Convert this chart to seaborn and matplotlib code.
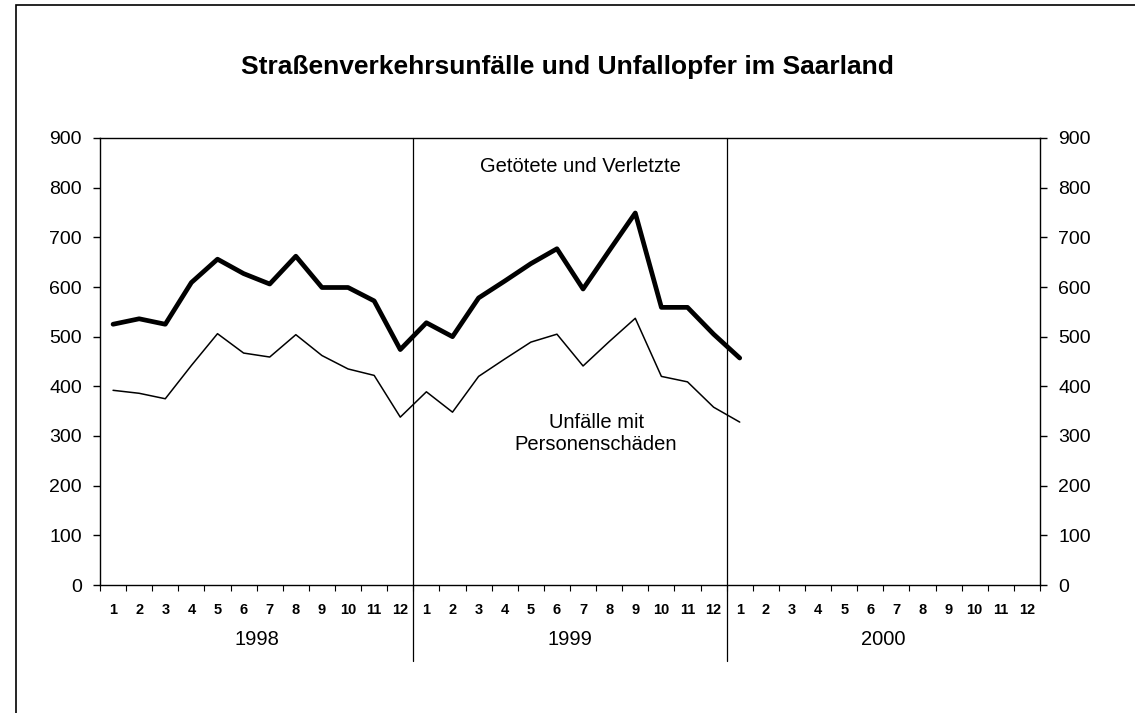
import matplotlib
matplotlib.use("Agg")
import matplotlib.pyplot as plt
import seaborn as sns
import pandas as pd
import numpy as np

sns.set_theme(style="white")
plt.rcParams['font.family'] = ['Liberation Sans', 'DejaVu Sans']
plt.rcParams['text.color'] = 'black'
plt.rcParams['xtick.color'] = 'black'
plt.rcParams['ytick.color'] = 'black'

years = ["1998", "1999", "2000"]
months = [str(m) for m in range(1, 13)]
verletzte = [525, 536, 525, 609, 656, 627, 606, 662, 599, 599, 572, 474,
             528, 500, 578, 612, 647, 677, 596, 673, 749, 559, 559, 505,
             457]
unfaelle = [392, 386, 375, 442, 506, 467, 459, 504, 462, 435, 422, 338,
            389, 348, 420, 455, 489, 505, 441, 490, 537, 420, 409, 358,
            328]
title = "Straßenverkehrsunfälle und Unfallopfer im Saarland"
label_verl = "Getötete und Verletzte"
label_unf = "Unfälle mit\nPersonenschäden"

n_cat = len(years) * len(months)
df = pd.DataFrame({
    "idx": list(range(len(verletzte))) * 2,
    "wert": verletzte + unfaelle,
    "serie": ["v"] * len(verletzte) + ["u"] * len(unfaelle),
})

W, H = 1135, 713
fig = plt.figure(figsize=(W / 100, H / 100), dpi=100)
ax = fig.add_axes([100 / W, 1 - 585 / H, 940 / W, 447 / H])

sns.lineplot(data=df[df.serie == "v"], x="idx", y="wert", ax=ax,
             color="black", linewidth=3.4, legend=False)
sns.lineplot(data=df[df.serie == "u"], x="idx", y="wert", ax=ax,
             color="black", linewidth=1.1, legend=False)

ax.set_xlim(-0.5, n_cat - 0.5)
ax.set_ylim(0, 900)
ax.set_xlabel("")
ax.set_ylabel("")

for s in ["left", "bottom", "right", "top"]:
    ax.spines[s].set_visible(True)
    ax.spines[s].set_color("black")
    ax.spines[s].set_linewidth(1.0)

yt = list(range(0, 1000, 100))
ax.set_yticks(yt)
ax.set_yticklabels([str(v) for v in yt], fontsize=14)
ax.tick_params(axis="y", which="major", direction="out", length=5, width=1,
               color="black", left=True, right=True, labelleft=True,
               labelright=True, pad=8)

ax.set_xticks(range(n_cat))
ax.set_xticklabels(months * len(years), fontsize=10.5, fontweight="bold")
ax.tick_params(axis="x", which="major", length=0, pad=13)
ax.set_xticks(np.arange(-0.5, n_cat, 1.0), minor=True)
ax.tick_params(axis="x", which="minor", direction="out", length=4,
               width=0.8, color="black", bottom=True)

# year dividers
for k in range(1, len(years)):
    ax.axvline(k * 12 - 0.5, ymin=-0.17, ymax=1.0, color="black",
               linewidth=0.9, clip_on=False)

# year labels
for k, y in enumerate(years):
    ax.text(k * 12 + 5.5, -0.123, y, transform=ax.get_xaxis_transform(),
            ha="center", va="center", fontsize=14.5)

ax.text(17.9, 843, label_verl, ha="center", va="center", fontsize=14.5)
ax.text(18.5, 306, label_unf, ha="center", va="center", fontsize=14.5,
        linespacing=1.2)

fig.text(567 / W, 1 - 67 / H, title, ha="center", va="center",
         fontsize=19, fontweight="bold")

# outer frame (partly outside canvas, as in the scan)
frame = plt.Rectangle((16 / W, -0.1), 1.2, 1 - 5 / H + 0.1,
                      transform=fig.transFigure, fill=False,
                      edgecolor="black", linewidth=1.2)
fig.add_artist(frame)

fig.savefig("out.png", dpi=100)
